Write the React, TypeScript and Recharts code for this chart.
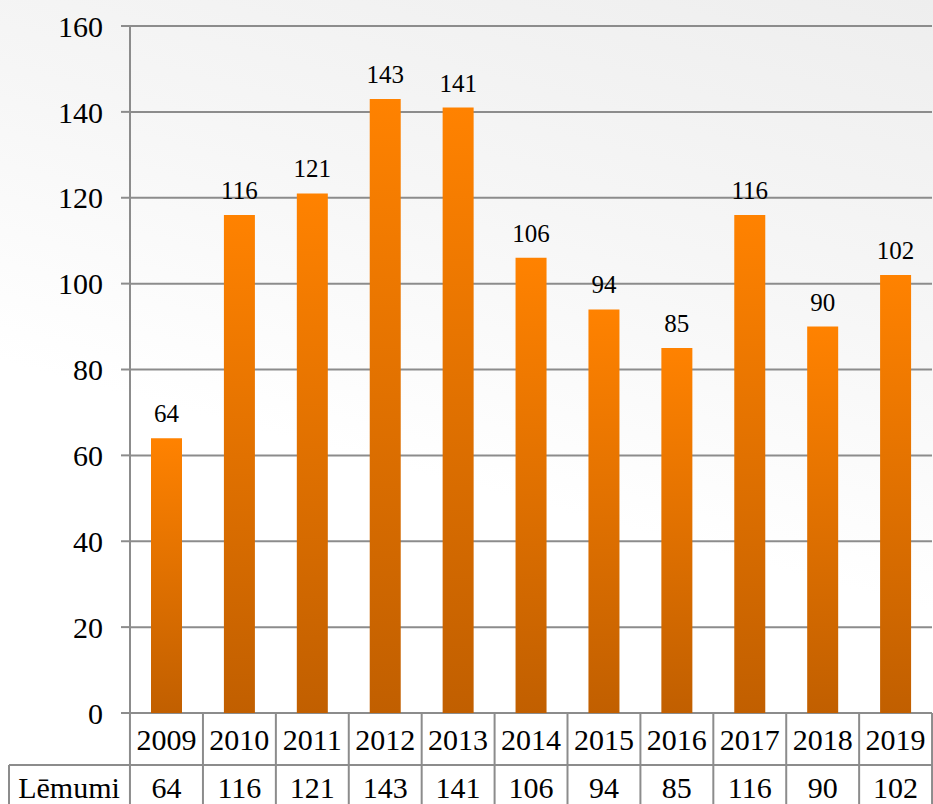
import { BarChart, Bar, XAxis, YAxis, CartesianGrid, LabelList } from "recharts";

const years = ["2009", "2010", "2011", "2012", "2013", "2014", "2015", "2016", "2017", "2018", "2019"];
const lemumi = [64, 116, 121, 143, 141, 106, 94, 85, 116, 90, 102];
const yTicks = [0, 20, 40, 60, 80, 100, 120, 140, 160];
const seriesName = "Lēmumi";

const data = years.map((year, i) => ({ year, value: lemumi[i] }));

const FONT = "'Liberation Serif', 'Times New Roman', serif";
const GRID = "#8c8c8c";

// table rows under the plot
const ROW_TOP = 713;
const ROW_MID = 765;
const ROW_BOTTOM = 804;
const CELL_HALF = 36.5;
const PLOT_LEFT = 130;

const cellText = { fontFamily: FONT, fontSize: 30 };

const TableTick = (props: any) => {
  const { x, payload, index } = props;
  const left = x - CELL_HALF;
  const right = x + CELL_HALF;
  return (
    <g>
      {index === 0 && (
        <g>
          <line x1={9} y1={ROW_MID} x2={PLOT_LEFT} y2={ROW_MID} stroke={GRID} strokeWidth={2} />
          <line x1={9} y1={ROW_MID} x2={9} y2={ROW_BOTTOM} stroke={GRID} strokeWidth={2} />
          <line x1={left} y1={ROW_TOP} x2={left} y2={ROW_BOTTOM} stroke={GRID} strokeWidth={2} />
          <text x={69} y={798} textAnchor="middle" fill="#000" style={cellText}>
            {seriesName}
          </text>
        </g>
      )}
      <line x1={left} y1={ROW_MID} x2={right} y2={ROW_MID} stroke={GRID} strokeWidth={2} />
      <line x1={right} y1={ROW_TOP} x2={right} y2={ROW_BOTTOM} stroke={GRID} strokeWidth={2} />
      <text x={x} y={750} textAnchor="middle" fill="#000" style={cellText}>
        {payload.value}
      </text>
      <text x={x} y={798} textAnchor="middle" fill="#000" style={cellText}>
        {lemumi[index]}
      </text>
    </g>
  );
};

export default function App() {
  return (
    <div
      style={{
        position: "absolute",
        left: 0,
        top: 0,
        width: 933,
        height: 804,
        overflow: "hidden",
        fontFamily: FONT,
        background: "linear-gradient(195deg, #eeeeee 0%, #f6f6f6 30%, #ffffff 58%)",
      }}
    >
      <svg width={0} height={0} style={{ position: "absolute" }}>
        <defs>
          <linearGradient id="barFill" x1="0" y1="0" x2="0" y2="1">
            <stop offset="0%" stopColor="#ff8200" />
            <stop offset="100%" stopColor="#c15f00" />
          </linearGradient>
        </defs>
      </svg>
      <BarChart
        width={933}
        height={804}
        data={data}
        margin={{ top: 26, right: 1, left: 0, bottom: 0 }}
        barCategoryGap={0}
      >
        <CartesianGrid vertical={false} stroke={GRID} strokeWidth={2} />
        <XAxis
          dataKey="year"
          height={91}
          axisLine={false}
          tickLine={false}
          interval={0}
          tick={<TableTick />}
        />
        <YAxis
          width={PLOT_LEFT}
          domain={[0, 160]}
          ticks={yTicks}
          interval={0}
          tickSize={9}
          tickMargin={18}
          axisLine={{ stroke: GRID, strokeWidth: 2 }}
          tickLine={{ stroke: GRID, strokeWidth: 2 }}
          tick={{ fill: "#000", fontSize: 30, fontFamily: FONT, style: { fontFamily: FONT } }}
        />
        <Bar dataKey="value" barSize={31} fill="url(#barFill)" isAnimationActive={false}>
          <LabelList
            dataKey="value"
            position="top"
            offset={16}
            fill="#000"
            fontSize={25}
            fontFamily={FONT}
          />
        </Bar>
      </BarChart>
    </div>
  );
}
